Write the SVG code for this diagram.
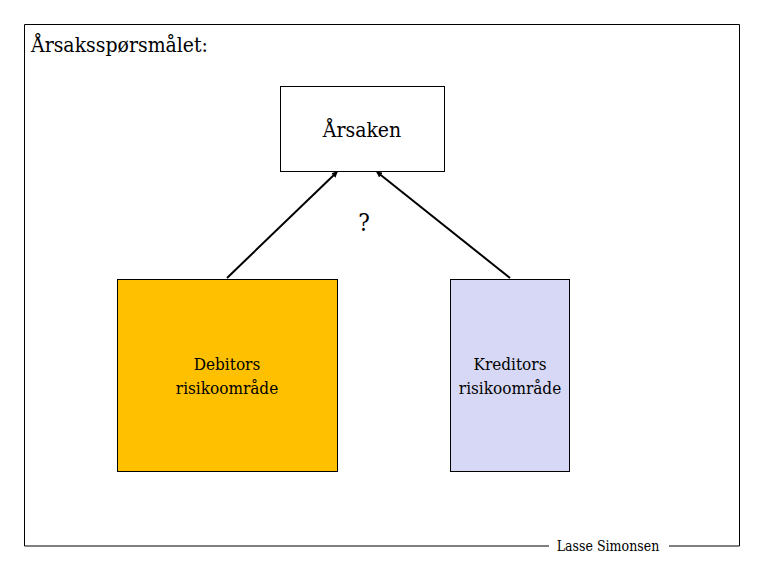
<svg xmlns="http://www.w3.org/2000/svg" width="765" height="570" viewBox="0 0 765 570">
<defs>
<style>
.t{font-family:'DejaVu Serif Condensed','DejaVu Serif',serif;font-stretch:condensed;fill:#000}
.box{stroke:#000;stroke-width:1}
.edge{stroke:#000;stroke-width:2;fill:none}
</style>
<marker id="ah" markerWidth="6" markerHeight="6" refX="5" refY="3" orient="auto" markerUnits="userSpaceOnUse">
<path d="M0,0 L6,3 L0,6 z" fill="#000"/>
</marker>
</defs>
<rect width="765" height="570" fill="#fff"/>
<g id="frame">
<path d="M549,546 L24.5,546 L24.5,24.5 L739.5,24.5 L739.5,546 L669,546" fill="none" stroke="#000" stroke-width="1"/>
<text class="t" x="31" y="52" font-size="21">Årsaksspørsmålet:</text>
<text class="t" x="608" y="551" font-size="14" text-anchor="middle">Lasse Simonsen</text>
</g>
<g id="arsaken">
<rect class="box" x="280.5" y="86.5" width="164" height="85" fill="#fff"/>
<text class="t" x="362" y="137" font-size="21" text-anchor="middle">Årsaken</text>
</g>
<g id="debitor">
<rect class="box" x="117.5" y="279.5" width="220" height="192" fill="#FFC000"/>
<text class="t" x="227" y="370" font-size="17" text-anchor="middle">Debitors</text>
<text class="t" x="227" y="394" font-size="17" text-anchor="middle">risikoområde</text>
</g>
<g id="kreditor">
<rect class="box" x="450.5" y="279.5" width="119" height="192" fill="#D6D8F5"/>
<text class="t" x="510" y="370" font-size="17" text-anchor="middle">Kreditors</text>
<text class="t" x="510" y="394" font-size="17" text-anchor="middle">risikoområde</text>
</g>
<g id="connectors">
<line class="edge" x1="227" y1="278" x2="337" y2="172" marker-end="url(#ah)"/>
<line class="edge" x1="510" y1="278" x2="377" y2="172" marker-end="url(#ah)"/>
<text class="t" x="364" y="231" font-size="24" text-anchor="middle">?</text>
</g>
</svg>
